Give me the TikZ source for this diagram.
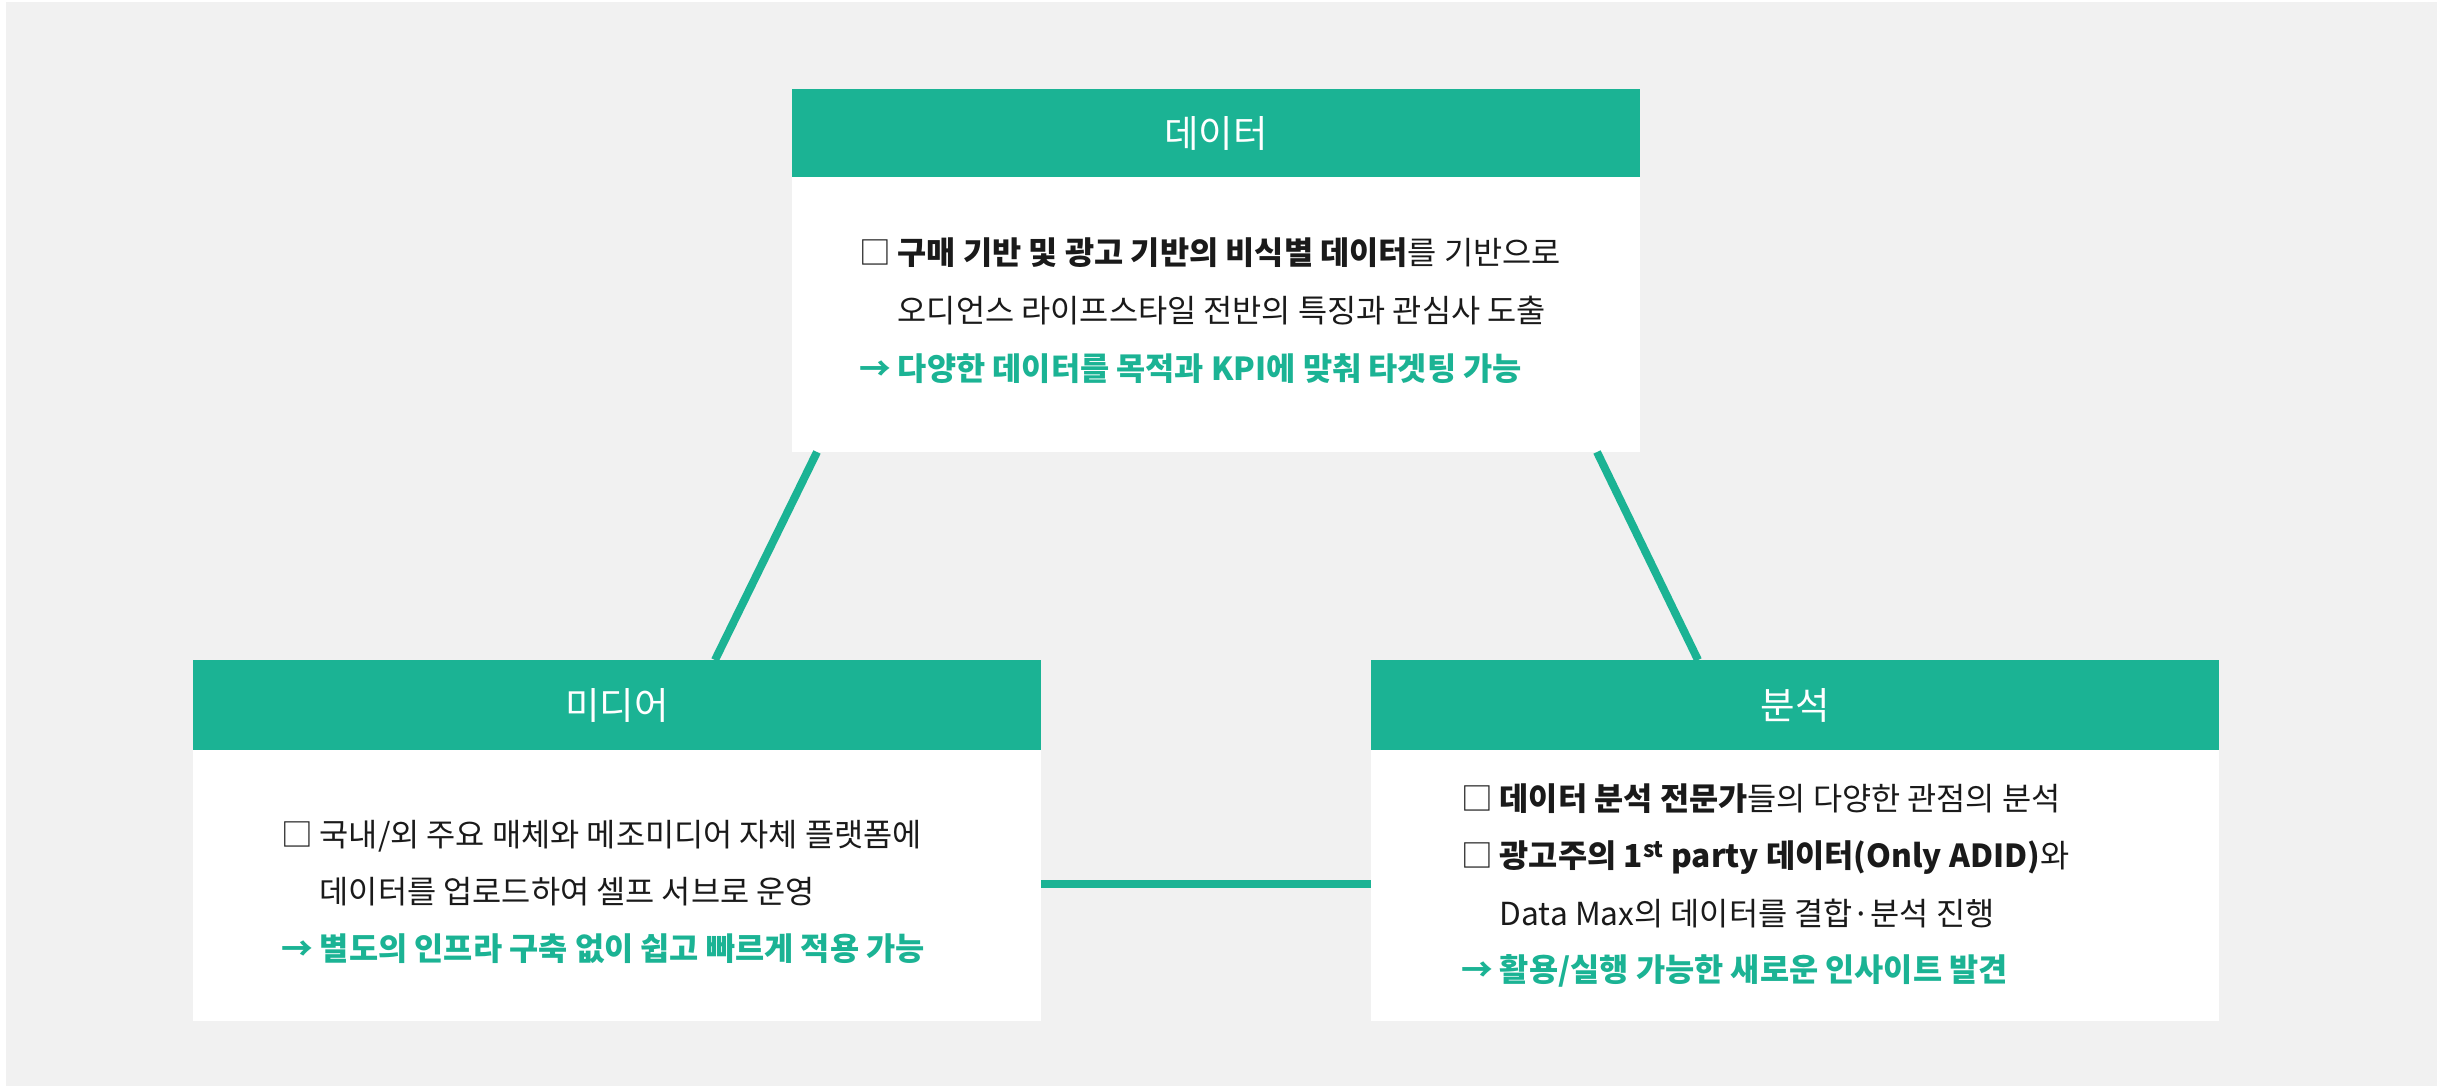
\documentclass[tikz,border=0pt]{standalone}
\usepackage{fontspec}
\setmainfont{Noto Sans CJK KR}
\usetikzlibrary{calc}
\definecolor{mzgreen}{HTML}{1BB394}
\definecolor{mzbg}{HTML}{F1F1F1}
\definecolor{mztext}{HTML}{1A1A1A}
\begin{document}
\begin{tikzpicture}[x=1pt,y=-1pt,
  bodybox/.style={fill=white,draw=none,minimum width=848pt,inner sep=0pt,outer sep=0pt},
  headbox/.style={fill=mzgreen,draw=none,minimum width=848pt,inner sep=0pt,outer sep=0pt,
    text=white,font=\fontsize{37.5}{42}\selectfont},
  bodytext/.style={anchor=base west,inner sep=0pt,outer sep=0pt,text=mztext,
    font=\fontsize{31.7}{37}\selectfont},
  greentext/.style={bodytext,text=mzgreen,font=\fontsize{31.7}{37}\selectfont\bfseries},
  link/.style={draw=mzgreen,line width=8pt}]
\useasboundingbox (0,0) rectangle (2437,1086);
\fill[white] (0,0) rectangle (2437,1086);
\fill[mzbg] (6,2) rectangle (2437,1086);
% boxes
\node[bodybox,minimum height=363pt] (top) at (1216,270.5) {};
\node[bodybox,minimum height=361pt] (left) at (617,840.5) {};
\node[bodybox,minimum height=361pt] (right) at (1795,840.5) {};
% connectors
\coordinate (a1) at ($(top.south west)+(25,0)$);
\coordinate (a2) at ($(left.north west)+(522,0)$);
\coordinate (b1) at ($(top.south west)+(805,0)$);
\coordinate (b2) at ($(right.north west)+(327,0)$);
\coordinate (c1) at ($(left.east)+(0,43.5)$);
\coordinate (c2) at ($(right.west)+(0,43.5)$);
\draw[link] (a1) -- (a2);
\draw[link] (b1) -- (b2);
\draw[link] (c1) -- (c2);
% headers
\node[headbox,minimum height=88pt,anchor=north] (topH) at (top.north) {데이터};
\node[headbox,minimum height=90pt,anchor=north] (leftH) at (left.north) {미디어};
\node[headbox,minimum height=90pt,anchor=north] (rightH) at (right.north) {분석};
% top texts
\node[bodytext] (t1) at (859,265) {□ \textbf{구매 기반 및 광고 기반의 비식별 데이터}를 기반으로};
\node[bodytext] (t2) at (859,322.5) {\phantom{□ }오디언스 라이프스타일 전반의 특징과 관심사 도출};
\node[greentext] (t3) at (859,380) {→ 다양한 데이터를 목적과 KPI에 맞춰 타겟팅 가능};
% left texts
\node[bodytext] (l1) at (281,846) {□ 국내/외 주요 매체와 메조미디어 자체 플랫폼에};
\node[bodytext] (l2) at (281,903) {\phantom{□ }데이터를 업로드하여 셀프 서브로 운영};
\node[greentext] (l3) at (281,960) {→ 별도의 인프라 구축 없이 쉽고 빠르게 적용 가능};
% right texts
\node[bodytext] (r1) at (1461,810) {□ \textbf{데이터 분석 전문가}들의 다양한 관점의 분석};
\node[bodytext] (r2) at (1461,867) {□ \textbf{광고주의 1\textsuperscript{st} party 데이터(Only ADID)}와};
\node[bodytext] (r3) at (1461,925) {\phantom{□ }Data Max의 데이터를 결합·분석 진행};
\node[greentext] (r4) at (1461,981) {→ 활용/실행 가능한 새로운 인사이트 발견};
\end{tikzpicture}
\end{document}
